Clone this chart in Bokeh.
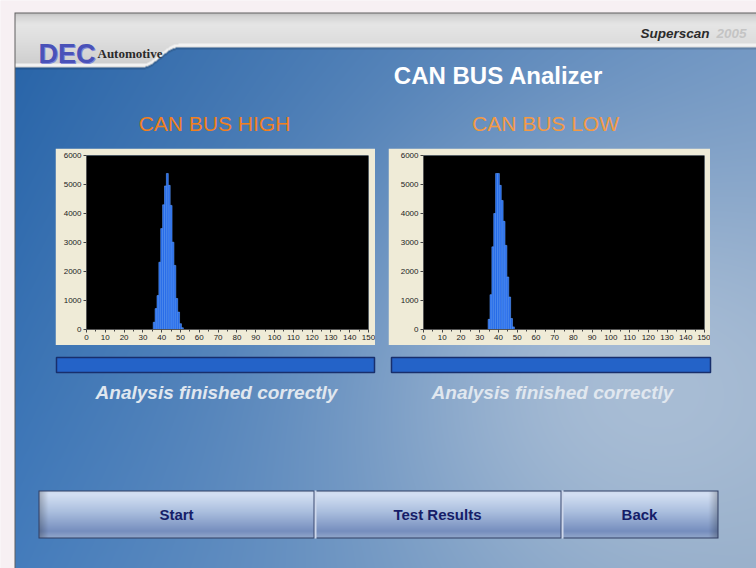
import numpy as np
from bokeh.plotting import figure
from bokeh.models import Range1d, FixedTicker
from bokeh.layouts import column, row
from bokeh.embed import file_html
from bokeh.resources import INLINE
from bokeh.core.properties import value

# ---------------- data ----------------
high_bins = [36, 37, 38, 39, 40, 41, 42, 43, 44, 45, 46, 47, 48, 49, 50, 51]
high_counts = [250, 720, 1170, 2320, 3480, 4300, 4950, 5380, 4970, 4280, 3010, 2210, 1070, 600, 200, 60]
low_bins = [35, 36, 37, 38, 39, 40, 41, 42, 43, 44, 45, 46, 47, 48]
low_counts = [350, 1200, 2850, 4000, 5380, 5380, 4970, 4450, 3730, 2900, 1810, 1120, 380, 90]
x_ticks = list(range(0, 151, 10))
x_minor_ticks = list(range(5, 150, 10))
y_ticks = [0, 1000, 2000, 3000, 4000, 5000, 6000]
chart_titles = ["CAN BUS HIGH", "CAN BUS LOW"]
status_texts = ["Analysis finished correctly", "Analysis finished correctly"]
button_labels = ["Start", "Test Results", "Back"]
app_title = "CAN BUS Analizer"

FONT = value("Liberation Sans")

W, H = 756, 568


def Y(py):
    # page pixel y -> data y of background figure
    return H - py


# ---------------- background image ----------------
px = np.arange(W) + 0.5
py = np.arange(H) + 0.5
PX, PY = np.meshgrid(px, py)


def lerp(a, b, f):
    return a + (b - a) * f


t = np.clip((PX - 14) / 742, 0, 1)[..., None] ** 0.9
s = np.clip((PY - 45) / 523, 0, 1)[..., None]
CLT = np.array([40, 100, 168.0]); CRT = np.array([112, 150, 195.0])
CLB = np.array([68, 124, 188.0]); CRB = np.array([140, 166, 196.0])
rgb = lerp(lerp(CLT, CRT, t), lerp(CLB, CRB, t), s)
g = np.exp(-(((PX - 630) / 190) ** 2 + ((PY - 380) / 160) ** 2) / 2) * 0.6
rgb = lerp(rgb, np.array([200, 212, 226.0]), g[..., None])

# header band
sm = np.clip((PX - 142) / 36, 0, 1)
sm = sm * sm * (3 - 2 * sm)
bnd = 67 - 20 * sm
gy = np.interp(PY, [12, 16, 24, 40, 67], [188, 212, 230, 222, 205])
hdr = PY < bnd
for c in range(3):
    rgb[..., c] = np.where(hdr, gy, rgb[..., c])
hl = (PY < bnd - 1) & (PY >= bnd - 3.5)
rgb[hl] = [242, 242, 242]
sh = (PY >= bnd) & (PY < bnd + 2)
rgb[sh] = rgb[sh] * 0.85

# buttons bar
bx0, bx1, by0, by1 = 38, 718, 490, 538
inb = (PX >= bx0) & (PX < bx1) & (PY >= by0) & (PY < by1)
f = (PY - by0) / (by1 - by0)
stops = [0, 0.08, 0.45, 0.85, 1]
br = np.interp(f, stops, [205, 212, 170, 118, 150])
bgc = np.interp(f, stops, [218, 224, 190, 142, 170])
bb = np.interp(f, stops, [238, 244, 222, 190, 205])
edge = np.clip(np.minimum(PX - bx0, bx1 - PX) / 10, 0, 1) * 0.25 + 0.75
for c, arr in enumerate([br, bgc, bb]):
    rgb[..., c] = np.where(inb, arr * edge, rgb[..., c])
bord = inb & ((PX < bx0 + 1.5) | (PX > bx1 - 1.5) | (PY < by0 + 1.5) | (PY > by1 - 1.5))
rgb[bord] = [48, 62, 100]
for dx in (314, 561):
    d1 = inb & (np.abs(PX - dx) < 0.6)
    d2 = inb & (np.abs(PX - dx - 1) < 0.6)
    rgb[d1] = [60, 75, 115]
    rgb[d2] = [205, 215, 235]

# outer frame
outside = (PX < 14) | (PY < 12)
rgb[outside] = [247, 240, 243]
border = ((PX >= 14) & (PX < 15) & (PY >= 12)) | ((PY >= 12) & (PY < 13) & (PX >= 14))
rgb[border] = [95, 95, 95]

rgba = np.zeros((H, W, 4), dtype=np.uint8)
rgba[..., :3] = np.clip(rgb, 0, 255).astype(np.uint8)
rgba[..., 3] = 255
img = np.flipud(rgba).copy().view(np.uint32).reshape(H, W)

# ---------------- background figure ----------------
bg = figure(width=W, height=H, x_range=Range1d(0, W), y_range=Range1d(0, H),
            x_axis_type=None, y_axis_type=None, min_border=0,
            background_fill_color="#f7f0f3", border_fill_color="#f7f0f3",
            outline_line_color=None, toolbar_location=None, output_backend="svg")
bg.image_rgba(image=[img], x=0, y=0, dw=W, dh=H)

# progress bars
bg.quad(left=[56, 391], right=[374, 710], top=[Y(357), Y(357)], bottom=[Y(372), Y(372)],
        fill_color="#2463c8", line_color="#182f6c", line_width=1.5)

# logo and header texts
bg.text(x=[39], y=[Y(54)], text=["DEC"], text_font=FONT, text_font_style="bold",
        text_font_size="27px", text_color="#8088d8", text_baseline="alphabetic")
bg.text(x=[38], y=[Y(53)], text=["DEC"], text_font=FONT, text_font_style="bold",
        text_font_size="27px", text_color="#4a52b8", text_baseline="alphabetic")
bg.text(x=[97], y=[Y(53)], text=["Automotive"], text_font=value("Liberation Serif"),
        text_font_style="bold", text_font_size="13px", text_color="#2a2a2a",
        text_baseline="alphabetic")
bg.text(x=[640], y=[Y(33)], text=["Superscan"], text_font=FONT, text_font_style="bold italic",
        text_font_size="13.5px", text_color="#2b2b2b", text_baseline="alphabetic")
bg.text(x=[716], y=[Y(33)], text=["2005"], text_font=FONT, text_font_style="bold italic",
        text_font_size="13.5px", text_color="#c4c4c4", text_baseline="alphabetic")
bg.text(x=[498], y=[Y(75)], text=[app_title], text_font=FONT, text_font_style="bold",
        text_font_size="24px", text_color="#ffffff", text_align="center", text_baseline="middle")

# chart titles
bg.text(x=[214, 545], y=[Y(123), Y(123)], text=chart_titles, text_font=FONT,
        text_font_size="21px", text_color=["#f2801e", "#f39a44"],
        text_align="center", text_baseline="middle")

# status texts
bg.text(x=[216, 552], y=[Y(392), Y(392)], text=status_texts, text_font=FONT,
        text_font_style="bold italic", text_font_size="19px", text_color="#e0e7ef",
        text_align="center", text_baseline="middle")

# buttons
bg.text(x=[176, 437, 639], y=[Y(514)] * 3, text=button_labels, text_font=FONT,
        text_font_style="bold", text_font_size="15px", text_color="#151d68",
        text_align="center", text_baseline="middle")


# ---------------- histograms ----------------
def hist_fig(bins, counts, frame_w, left, right):
    h = figure(frame_width=frame_w, frame_height=174,
               x_range=Range1d(0, 150), y_range=Range1d(0, 6000),
               min_border_left=left, min_border_right=right,
               min_border_top=7, min_border_bottom=16,
               background_fill_color="black", border_fill_color="#efebd7",
               outline_line_color=None, toolbar_location=None, output_backend="svg")
    h.grid.visible = False
    h.vbar(x=bins, top=counts, width=1, bottom=0,
           fill_color="#2468e6", line_color="#5c9cff", line_width=0.6)
    xa = h.xaxis[0]
    xa.ticker = FixedTicker(ticks=x_ticks, minor_ticks=x_minor_ticks)
    ya = h.yaxis[0]
    ya.ticker = FixedTicker(ticks=y_ticks)
    for ax in (xa, ya):
        ax.axis_line_color = "#555555"
        ax.major_tick_line_color = "#444444"
        ax.minor_tick_line_color = "#444444"
        ax.major_tick_in = 0
        ax.major_tick_out = 3
        ax.minor_tick_in = 0
        ax.minor_tick_out = 2
        ax.major_label_text_font = "Liberation Sans"
        ax.major_label_text_font_size = "8px"
        ax.major_label_text_color = "#222222"
        ax.major_label_standoff = 2
    ya.minor_tick_line_color = None
    return h


h1 = hist_fig(high_bins, high_counts, 282, 31, 7)
h2 = hist_fig(low_bins, low_counts, 281, 35, 6)

charts = row(h1, h2, spacing=13, margin=(148 - H, 0, 0, 55))
layout = column(bg, charts)

open("out.html", "w").write(file_html(layout, INLINE))
